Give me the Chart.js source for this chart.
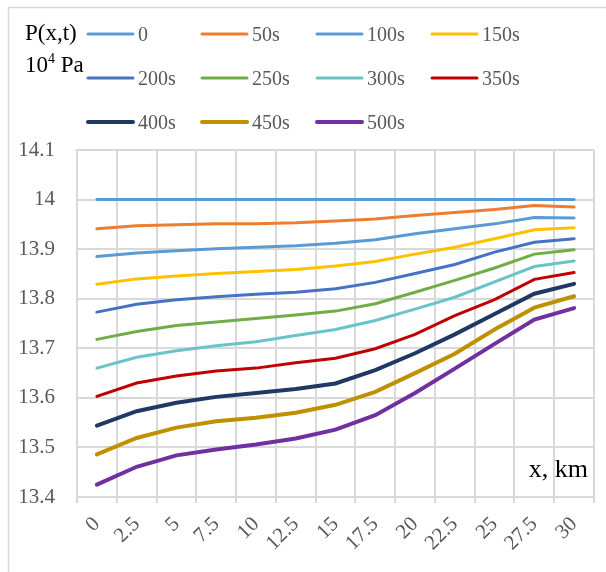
<!DOCTYPE html>
<html>
<head>
<meta charset="utf-8">
<script src="https://cdn.jsdelivr.net/npm/chart.js@4"></script>
<style>
html,body{margin:0;padding:0;background:#fff;}
#wrap{width:606px;height:572px;}
</style>
</head>
<body>
<div id="wrap"><canvas id="c" width="606" height="572"></canvas></div>
<script>
const categories = ['0','2.5','5','7.5','10','12.5','15','17.5','20','22.5','25','27.5','30'];
const seriesLabels = ['0','50s','100s','150s','200s','250s','300s','350s','400s','450s','500s'];
const s0   = [14,14,14,14,14,14,14,14,14,14,14,14,14];
const s50  = [13.941,13.947,13.949,13.951,13.951,13.953,13.957,13.961,13.968,13.974,13.980,13.988,13.985];
const s100 = [13.885,13.892,13.897,13.901,13.904,13.907,13.912,13.919,13.931,13.941,13.951,13.964,13.963];
const s150 = [13.829,13.840,13.846,13.851,13.855,13.859,13.866,13.875,13.890,13.904,13.921,13.939,13.943];
const s200 = [13.773,13.789,13.798,13.804,13.809,13.813,13.820,13.833,13.851,13.869,13.894,13.914,13.921];
const s250 = [13.718,13.734,13.746,13.753,13.760,13.767,13.775,13.790,13.813,13.837,13.862,13.890,13.899];
const s300 = [13.660,13.682,13.695,13.705,13.713,13.726,13.738,13.756,13.779,13.803,13.834,13.865,13.876];
const s350 = [13.603,13.630,13.644,13.654,13.660,13.671,13.680,13.699,13.728,13.766,13.798,13.839,13.853];
const s400 = [13.544,13.573,13.590,13.602,13.610,13.618,13.629,13.656,13.690,13.728,13.769,13.810,13.830];
const s450 = [13.486,13.519,13.540,13.553,13.560,13.570,13.586,13.612,13.650,13.689,13.738,13.782,13.805];
const s500 = [13.425,13.461,13.484,13.496,13.506,13.518,13.536,13.565,13.610,13.659,13.709,13.758,13.781];
const yTicks = [13.4,13.5,13.6,13.7,13.8,13.9,14,14.1];

const seriesValues = [s0,s50,s100,s150,s200,s250,s300,s350,s400,s450,s500];
const colors = ['#5B9BD5','#ED7D31','#5B9BD5','#FFC000','#4472C4','#70AD47','#6AC3C6','#C00000','#203864','#BF9000','#7030A0'];
const widths = [3,3,3,3,3,3,3,3,4,4,4];

const SERIF = "'Liberation Serif','Times New Roman',serif";

const datasets = seriesValues.map((d,i)=>({
  label: seriesLabels[i],
  data: d,
  borderColor: colors[i],
  backgroundColor: colors[i],
  borderWidth: widths[i],
  pointRadius: 0,
  tension: 0,
  fill: false,
  borderCapStyle: 'round'
}));

const decor = {
  id: 'decor',
  beforeDraw(chart){
    const ctx = chart.ctx;
    ctx.save();
    ctx.fillStyle = '#fff';
    ctx.fillRect(0,0,chart.width,chart.height);
    ctx.strokeStyle = '#d9d9d9';
    ctx.lineWidth = 1.5;
    ctx.beginPath();
    ctx.moveTo(8.5, chart.height+5);
    ctx.lineTo(8.5, 7.5);
    ctx.lineTo(chart.width+5, 7.5);
    ctx.stroke();
    ctx.restore();
  },
  afterDraw(chart){
    const ctx = chart.ctx;
    ctx.save();
    ctx.fillStyle = '#000';
    ctx.textBaseline = 'middle';
    ctx.textAlign = 'left';
    ctx.font = '23px ' + SERIF;
    ctx.fillText('P(x,t)', 25, 34);
    ctx.fillText('10', 25, 66);
    let w = ctx.measureText('10').width;
    ctx.font = '14px ' + SERIF;
    ctx.fillText('4', 25 + w, 59);
    let w2 = ctx.measureText('4').width;
    ctx.font = '23px ' + SERIF;
    ctx.fillText(' Pa', 25 + w + w2, 66);
    ctx.font = '26px ' + SERIF;
    ctx.textAlign = 'right';
    ctx.fillText('x, km', 588, 470);
    const colX = [88, 202, 317, 432];
    const rowY = [34, 78, 122];
    ctx.font = '20px ' + SERIF;
    ctx.textAlign = 'left';
    chart.data.datasets.forEach((ds,i)=>{
      const x = colX[i%4], y = rowY[Math.floor(i/4)];
      ctx.strokeStyle = ds.borderColor;
      ctx.lineWidth = ds.borderWidth;
      ctx.lineCap = 'round';
      ctx.beginPath();
      ctx.moveTo(x, y);
      ctx.lineTo(x+45, y);
      ctx.stroke();
      ctx.fillStyle = '#595959';
      ctx.fillText(ds.label, x+50, y+2);
    });
    ctx.restore();
  }
};

new Chart(document.getElementById('c'), {
  type: 'line',
  data: { labels: categories, datasets },
  options: {
    responsive: false,
    devicePixelRatio: 1,
    animation: false,
    layout: { padding: { top: 150, right: 12, bottom: 0, left: 0 } },
    plugins: { legend: { display: false }, tooltip: { enabled: false } },
    scales: {
      x: {
        type: 'category',
        offset: true,
        afterFit(s){ s.height = 75; },
        grid: { offset: true, color: '#d9d9d9', lineWidth: 2, tickLength: 6, drawTicks: true },
        border: { color: '#d9d9d9', width: 2 },
        ticks: { color: '#595959', font: { family: SERIF, size: 21 }, minRotation: 45, maxRotation: 45, padding: 9, autoSkip: false }
      },
      y: {
        min: 13.4, max: 14.1,
        afterFit(s){ s.width = 77; },
        afterBuildTicks(s){ s.ticks = yTicks.map(v=>({value:v})); },
        grid: { color: '#d9d9d9', lineWidth: 2, drawTicks: false },
        border: { color: '#d9d9d9', width: 2 },
        ticks: { color: '#595959', font: { family: SERIF, size: 21 }, padding: 22,
          callback: v => String(Number(v.toFixed(1))) }
      }
    }
  },
  plugins: [decor]
});
</script>
</body>
</html>
